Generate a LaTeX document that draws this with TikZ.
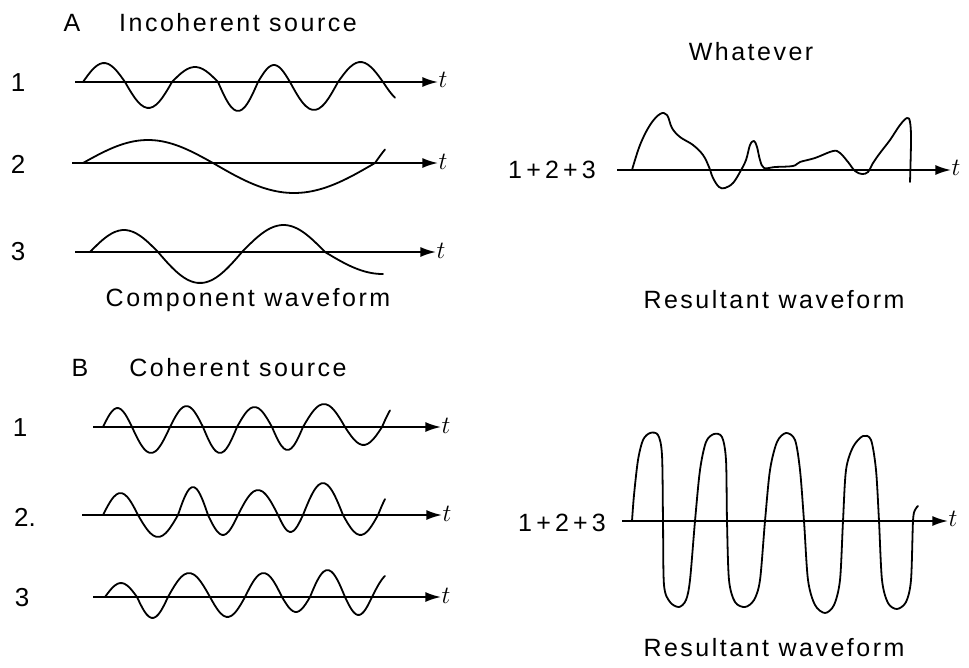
\documentclass[tikz,border=0pt]{standalone}
\usepackage{fontspec}
\setmainfont{Liberation Sans}
\newfontfamily\capfont[LetterSpace=10]{Liberation Sans}
\usetikzlibrary{arrows.meta}

\begin{document}
\begin{tikzpicture}[x=1pt, y=-1pt, >={Latex[length=16pt,width=10pt]},
  lbl/.style={font=\fontsize{25}{28}\selectfont\capfont, inner sep=0pt},
  num/.style={font=\fontsize{26}{28}\selectfont, inner sep=0pt},
  tlbl/.style={font=\fontsize{32}{32}\selectfont, inner sep=0pt},
  axis/.style={->, line width=2.4pt},
  wave/.style={line width=1.8pt, smooth, line cap=round, line join=round}]
  \useasboundingbox (0,0) rectangle (969,667);
  % A: incoherent source
  \node[lbl] (atag) at (72,23) {A};
  \node[lbl] (atitle) at (238,23) {Incoherent source};
  \node[num] (an1) at (18,83) {1};
  \node[num] (an2) at (18,164) {2};
  \node[num] (an3) at (18,252) {3};
  \coordinate (aa1) at (75,82); \coordinate (aa2) at (72,163); \coordinate (aa3) at (75,252);
  \node[tlbl] (at1) at (443,80) {$t$};
  \node[tlbl] (at2) at (443,162) {$t$};
  \node[tlbl] (at3) at (441,251) {$t$};
  \draw[axis] (aa1) -- (aa1 -| at1.west);
  \draw[axis] (aa2) -- (aa2 -| at2.west);
  \draw[axis] (aa3) -- (aa3 -| at3.west);
  % half waves: start/end/amplitude/where the stroke stops
  \foreach \xa/\xb/\amp/\xe in {83/125/19/125, 125/172/-26/172, 172/218/15/218, 218/258/-29/258, 258/290/17/290, 290/338/-28/338, 338/383/20/383, 383/425/-20/395}
    \draw[wave] plot[domain=\xa:\xe, samples=16] (\x, {82-\amp*sin((\x-\xa)/(\xb-\xa)*180)});
  \foreach \xa/\xb/\amp/\xe in {83/213/23/213, 213/375/-30/375, 375/430/25/385}
    \draw[wave] plot[domain=\xa:\xe, samples=24] (\x, {163-\amp*sin((\x-\xa)/(\xb-\xa)*180)});
  \foreach \xa/\xb/\amp/\xe in {90/158/22/158, 158/242/-31/242, 242/325/27/325, 325/440/-22/383}
    \draw[wave] plot[domain=\xa:\xe, samples=20] (\x, {252-\amp*sin((\x-\xa)/(\xb-\xa)*180)});
  \node[lbl] (acap) at (248,300) {Component waveform};
  % A: resultant
  \node[lbl] (whatever) at (751,52) {Whatever};
  \node[lbl] (asum) at (552,170) {1\,+\,2\,+\,3};
  \coordinate (ar) at (617,170);
  \node[tlbl] (art) at (956,168) {$t$};
  \draw[axis] (ar) -- (ar -| art.west);
  \draw[wave, tension=0.6] plot coordinates {(632,170) (640,145) (650,125) (660,114) (667,115) (672,128) (680,137) (693,145) (703,155) (709,167) (713,178) (719,187) (725,188) (733,183) (740,172) (746,160) (750,145) (754,141) (757,147) (760,160) (764,168) (775,167) (793,166) (800,162) (815,158) (833,151) (840,153) (848,162) (855,171) (862,174) (868,172) (873,163) (880,153) (890,140) (900,125) (907,118) (910,122) (911,140) (910,182)};
  \node[lbl] (arcap) at (774,300) {Resultant waveform};
  % B: coherent source
  \node[lbl] (btag) at (80,368) {B};
  \node[lbl] (btitle) at (238,368) {Coherent source};
  \node[num] (bn1) at (20,428) {1};
  \node[num] (bn2) at (25,517) {2.};
  \node[num] (bn3) at (22,598) {3};
  \coordinate (ba1) at (93,427); \coordinate (ba2) at (82,515); \coordinate (ba3) at (93,597);
  \node[tlbl, font=\fontsize{29}{29}\selectfont] (bt1) at (446,426) {$t$};
  \node[tlbl, font=\fontsize{29}{29}\selectfont] (bt2) at (447,514) {$t$};
  \node[tlbl, font=\fontsize{29}{29}\selectfont] (bt3) at (446,596) {$t$};
  \draw[axis] (ba1) -- (ba1 -| bt1.west);
  \draw[axis] (ba2) -- (ba2 -| bt2.west);
  \draw[axis] (ba3) -- (ba3 -| bt3.west);
  \foreach \xa/\xb/\amp/\xe in {103/132/19/132, 132/170/-26/170, 170/203/21/203, 203/237/-26/237, 237/272/20/272, 272/303/-23/303, 303/345/23/345, 345/382/-18/382, 382/415/24/390}
    \draw[wave] plot[domain=\xa:\xe, samples=14] (\x, {427-\amp*sin((\x-\xa)/(\xb-\xa)*180)});
  \foreach \xa/\xb/\amp/\xe in {103/138/22/138, 138/178/-22/178, 178/208/28/208, 208/238/-20/238, 238/278/25/278, 278/303/-17/303, 303/343/32/343, 343/378/-20/378, 378/410/25/385}
    \draw[wave] plot[domain=\xa:\xe, samples=14] (\x, {515-\amp*sin((\x-\xa)/(\xb-\xa)*180)});
  \foreach \xa/\xb/\amp/\xe in {105/137/14/137, 137/168/-21/168, 168/210/24/210, 210/245/-20/245, 245/282/24/282, 282/310/-15/310, 310/345/27/345, 345/372/-18/372, 372/410/24/385}
    \draw[wave] plot[domain=\xa:\xe, samples=14] (\x, {597-\amp*sin((\x-\xa)/(\xb-\xa)*180)});
  % B: resultant
  \node[lbl] (bsum) at (562,523) {1\,+\,2\,+\,3};
  \coordinate (br) at (622,521);
  \node[tlbl] (brt) at (953,519) {$t$};
  \draw[axis] (br) -- (br -| brt.west);
  \draw[wave, tension=0.5] plot coordinates {(632,521) (634,495) (638,460) (643,440) (650,433) (658,435) (662,455) (663,521) (664,585) (670,602) (679,607) (686,600) (690,580) (695,521) (700,470) (706,442) (714,434) (722,437) (726,460) (727,521) (729,580) (735,602) (745,607) (754,600) (760,580) (765,521) (770,470) (777,442) (786,433) (795,440) (800,470) (804,521) (808,580) (815,605) (825,613) (834,605) (840,580) (843,521) (846,470) (853,447) (863,436) (871,440) (876,470) (879,521) (882,580) (888,603) (897,609) (906,602) (911,580) (913,521) (915,510) (918,506)};
  \node[lbl] (brcap) at (774,648) {Resultant waveform};
\end{tikzpicture}
\end{document}
